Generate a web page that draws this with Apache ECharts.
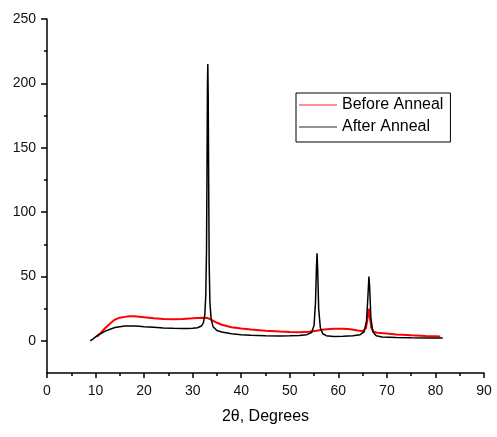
<!DOCTYPE html>
<html>
<head>
<meta charset="utf-8">
<script src="https://cdn.jsdelivr.net/npm/echarts@6/dist/echarts.min.js"></script>
<style>
html,body{margin:0;padding:0;background:#fff;}
#chart{width:497px;height:437px;}
</style>
</head>
<body>
<div id="chart"></div>
<script>
// 2-theta (degrees) and intensity for each pattern
const beforeX = [10.3,11,12,13,14,15,16,17,18,19,20,22,24,26,28,30,31,32,33,34,35,36,38,40,42,45,48,50,52,54,55.5,57,59,61,62.5,64,65,65.7,66,66.25,66.5,66.8,67.3,68,70,72,75,78,80,81];
const beforeY = [3,6,10,13.5,16.5,18,18.6,19,19,18.7,18.3,17.5,17,16.8,17,17.5,17.8,18,17.8,16,14,12.5,10.6,9.5,8.7,7.8,7.2,6.9,6.7,7,7.8,8.8,9.3,9.3,9,8,7.5,10,17,25,18,10,7,6.3,5.6,5,4.3,3.8,3.5,3.3];
const afterX = [8.9,9.5,10,10.5,11,12,13,14,15,16,17,18,19,20,22,24,26,28,29,30,31,31.8,32.2,32.5,32.7,32.85,32.95,33.05,33.12,33.2,33.3,33.4,33.55,33.8,34.2,35,36,38,40,42,45,48,50,52,53.5,54.5,55,55.3,55.5,55.62,55.75,55.95,56.3,56.8,57.5,59,61,63,64.5,65.3,65.8,66.1,66.3,66.45,66.7,67.1,67.8,69,72,75,78,81.5];
const afterY = [0,1.5,3,4.5,5.5,7.5,9,10.3,11,11.5,11.6,11.5,11.3,11,10.5,10,9.7,9.5,9.5,9.7,10.2,11.5,14,20,35,70,130,200,215,190,120,60,30,17,11,8,6.8,5.5,4.8,4.3,3.9,3.8,3.9,4.2,4.8,6.5,12,30,58,68,55,25,10,5.5,4,3.3,3.5,4,4.8,7,15,35,50,42,18,7,4,3,2.6,2.3,2.2,2.2];
const yLabelTicks = [0,50,100,150,200,250];
const yMinorTicks = [25,75,125,175,225];
const seriesNames = ['Before Anneal','After Anneal'];

const zip = (xs, ys) => xs.map((x, i) => [x, ys[i]]);
const font = 'Liberation Sans, Arial, sans-serif';

const chart = echarts.init(document.getElementById('chart'), null, {renderer:'canvas'});
chart.setOption({
  animation:false,
  backgroundColor:'#fff',
  grid:{left:47,right:13,top:19,bottom:64},
  legend:{
    orient:'vertical', left:296, top:93,
    padding:[4,7,7,3],
    itemWidth:38, itemHeight:14, itemGap:6,
    icon:'path://M0,0 L38,0 L38,1.3 L0,1.3 Z',
    borderColor:'#000', borderWidth:1,
    textStyle:{fontFamily:font,fontSize:16,color:'#000'},
    data:[
      {name:seriesNames[0], itemStyle:{color:'#ff6a6a'}},
      {name:seriesNames[1], itemStyle:{color:'#707070'}}
    ]
  },
  xAxis:{
    type:'value', min:0, max:90, interval:10,
    name:'2θ, Degrees', nameLocation:'middle', nameGap:36,
    nameTextStyle:{fontFamily:font,fontSize:16,color:'#000'},
    axisLine:{onZero:false,lineStyle:{color:'#000',width:1.5}},
    axisTick:{length:5,lineStyle:{color:'#000',width:1.5}},
    minorTick:{show:true,splitNumber:2,length:3,lineStyle:{color:'#000',width:1.5}},
    axisLabel:{fontFamily:font,fontSize:14,color:'#111',margin:11},
    splitLine:{show:false}
  },
  yAxis:[{
    type:'value', min:-25, max:250,
    axisLine:{onZero:false,lineStyle:{color:'#000',width:1.5}},
    axisTick:{length:6,customValues:yLabelTicks,lineStyle:{color:'#000',width:1.5}},
    axisLabel:{fontFamily:font,fontSize:14,color:'#111',margin:11,customValues:yLabelTicks},
    splitLine:{show:false}
  },{
    type:'value', min:-25, max:250, position:'left',
    axisLine:{show:false},
    axisTick:{length:3,customValues:yMinorTicks,lineStyle:{color:'#000',width:1.5}},
    axisLabel:{show:false},
    splitLine:{show:false}
  }],
  series:[{
    name:seriesNames[0], type:'line', symbol:'none', yAxisIndex:0,
    color:'#ff0000', lineStyle:{color:'#ff0000',width:2},
    data:zip(beforeX,beforeY), z:2
  },{
    name:seriesNames[1], type:'line', symbol:'none', yAxisIndex:0,
    color:'#000000', lineStyle:{color:'#000000',width:1.5},
    data:zip(afterX,afterY), z:3
  }]
});
</script>
</body>
</html>
